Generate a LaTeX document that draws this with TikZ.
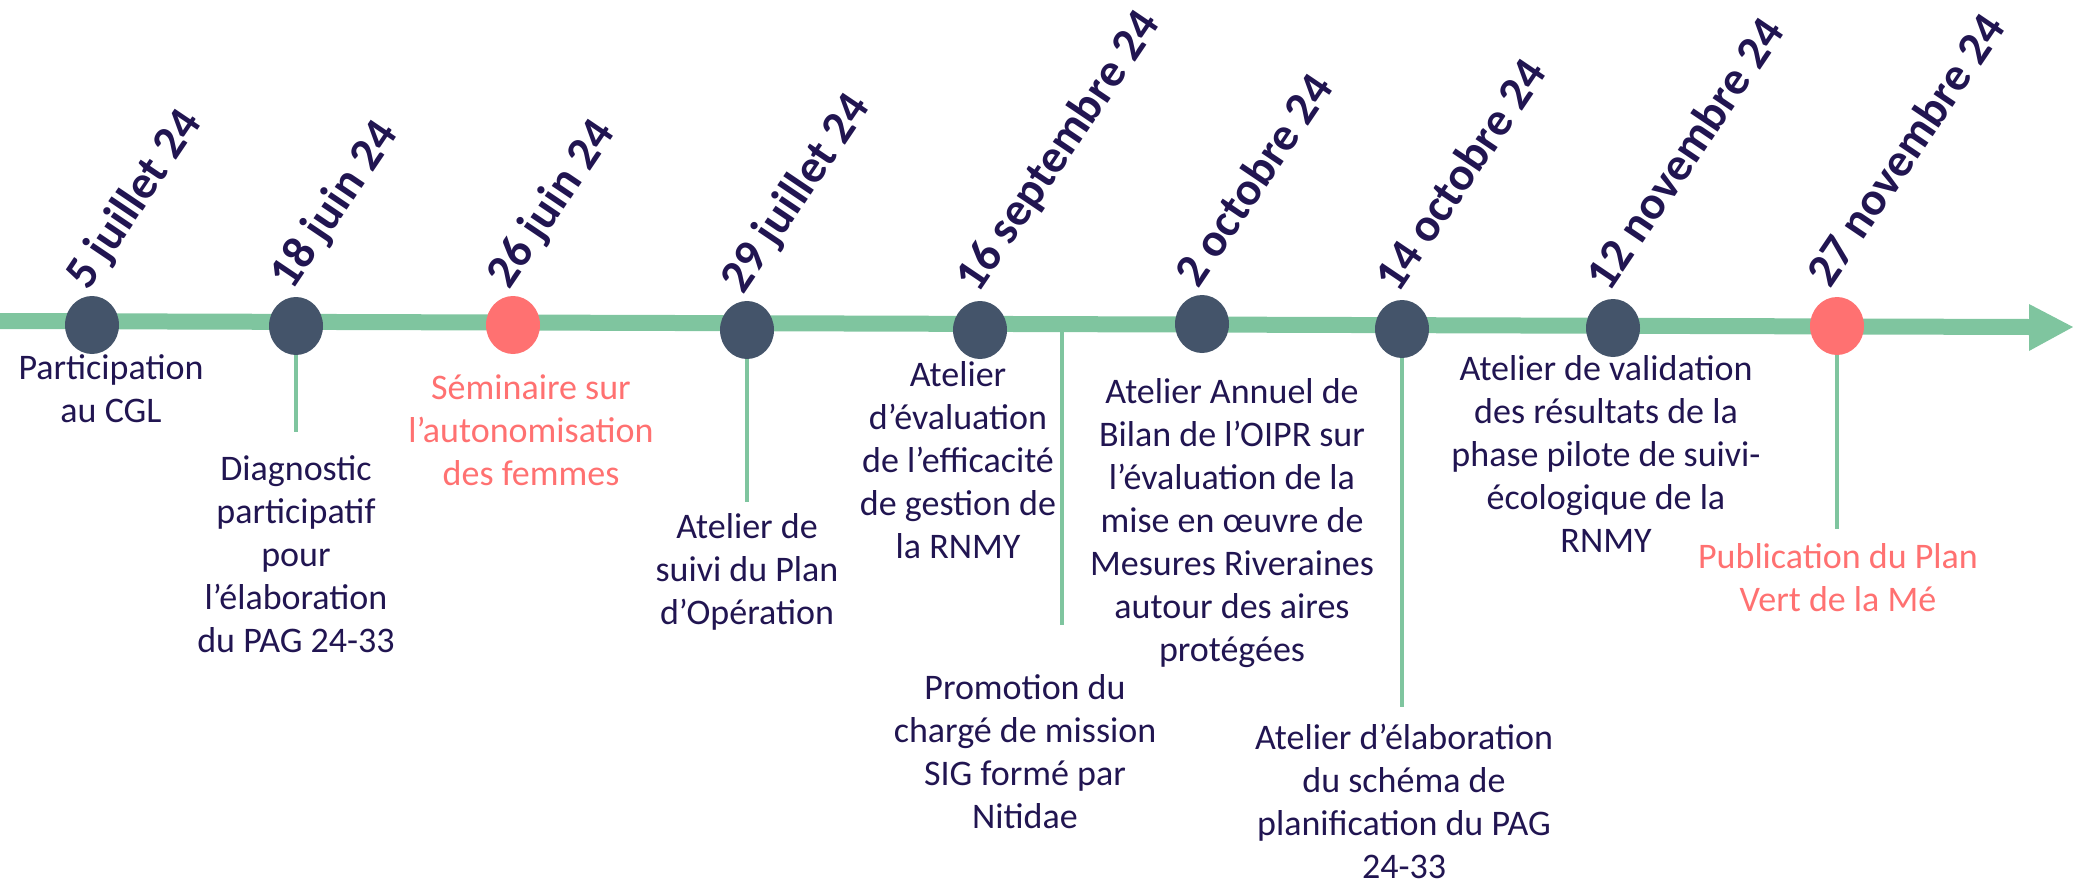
\documentclass[tikz,border=0pt]{standalone}
\usepackage{fontspec}
\setmainfont{Carlito}
\usetikzlibrary{shapes.geometric}
\definecolor{ink}{HTML}{211551}
\definecolor{tlgreen}{HTML}{7FC59F}
\definecolor{dotdark}{HTML}{44546A}
\definecolor{dotred}{HTML}{FF7171}
\tikzset{
  lbl/.style={font=\fontsize{18}{21.5}\selectfont, text=ink, align=center, inner sep=0pt, anchor=north},
  redlbl/.style={lbl, text=dotred},
  datelbl/.style={font=\bfseries\fontsize{23.5}{28}\selectfont, text=ink, rotate=56, anchor=base west, inner sep=0pt},
  dot/.style={ellipse, minimum width=27pt, minimum height=29pt, inner sep=0pt, fill=dotdark},
  reddot/.style={dot, fill=dotred},
  conn/.style={draw=tlgreen, line width=2pt}
}
\begin{document}
\begin{tikzpicture}[x=0.5pt,y=-0.5pt]
\useasboundingbox (0,0) rectangle (2073,889);
% main timeline
\coordinate (L0) at (0,321);
\coordinate (L1) at (2030,327);
\coordinate (tip) at (2073,327);
\coordinate (ahA) at (2029,304);
\coordinate (ahB) at (2029,351);
\draw[tlgreen, line width=8pt] (L0) -- (L1);
\fill[tlgreen] (ahA) -- (tip) -- (ahB) -- cycle;
% free connector (no dot)
\coordinate (p6a) at (1062,326);
\coordinate (p6b) at (1062,625);
\draw[conn] (p6a) -- (p6b);
% dots
\node[dot] (c1) at (92,325) {};
\node[dot] (c2) at (296,326) {};
\node[reddot] (c3) at (513,325) {};
\node[dot] (c4) at (747,330) {};
\node[dot] (c5) at (980,330) {};
\node[dot] (c6) at (1202,324) {};
\node[dot] (c7) at (1402,329) {};
\node[dot] (c8) at (1613,328) {};
\node[reddot] (c9) at (1837,326) {};
% connector ends
\coordinate (e2) at (296,432);
\coordinate (e4) at (747,502);
\coordinate (e7) at (1402,707);
\coordinate (e9) at (1837,529);
\draw[conn] (c2) -- (e2);
\draw[conn] (c4) -- (e4);
\draw[conn] (c7) -- (e7);
\draw[conn] (c9) -- (e9);
% dates
\node[datelbl] (d1) at (88,292) {5 juillet 24};
\node[datelbl] (d2) at (292,292) {18 juin 24};
\node[datelbl] (d3) at (509,291) {26 juin 24};
\node[datelbl] (d4) at (743,296) {29 juillet 24};
\node[datelbl] (d5) at (978,295) {16 septembre 24};
\node[datelbl] (d6) at (1198,290) {2 octobre 24};
\node[datelbl] (d7) at (1398,295) {14 octobre 24};
\node[datelbl] (d8) at (1609,294) {12 novembre 24};
\node[datelbl] (d9) at (1830,290) {27 novembre 24};
% descriptions
\node[lbl] (t1) at (111,354) {Participation\\au CGL};
\node[lbl] (t2) at (296,455) {Diagnostic\\participatif\\pour\\l’élaboration\\du PAG 24-33};
\node[redlbl] (t3) at (531,374) {Séminaire sur\\l’autonomisation\\des femmes};
\node[lbl] (t4) at (747,513) {Atelier de\\suivi du Plan\\d’Opération};
\node[lbl] (t5) at (958,361) {Atelier\\d’évaluation\\de l’efficacité\\de gestion de\\la RNMY};
\node[lbl] (t6) at (1025,674) {Promotion du\\chargé de mission\\SIG formé par\\Nitidae};
\node[lbl] (t7) at (1232,378) {Atelier Annuel de\\Bilan de l’OIPR sur\\l’évaluation de la\\mise en œuvre de\\Mesures Riveraines\\autour des aires\\protégées};
\node[lbl] (t8) at (1404,724) {Atelier d’élaboration\\du schéma de\\planification du PAG\\24-33};
\node[lbl] (t9) at (1606,355) {Atelier de validation\\des résultats de la\\phase pilote de suivi-\\écologique de la\\RNMY};
\node[redlbl] (t10) at (1838,543) {Publication du Plan\\Vert de la Mé};
\end{tikzpicture}
\end{document}
